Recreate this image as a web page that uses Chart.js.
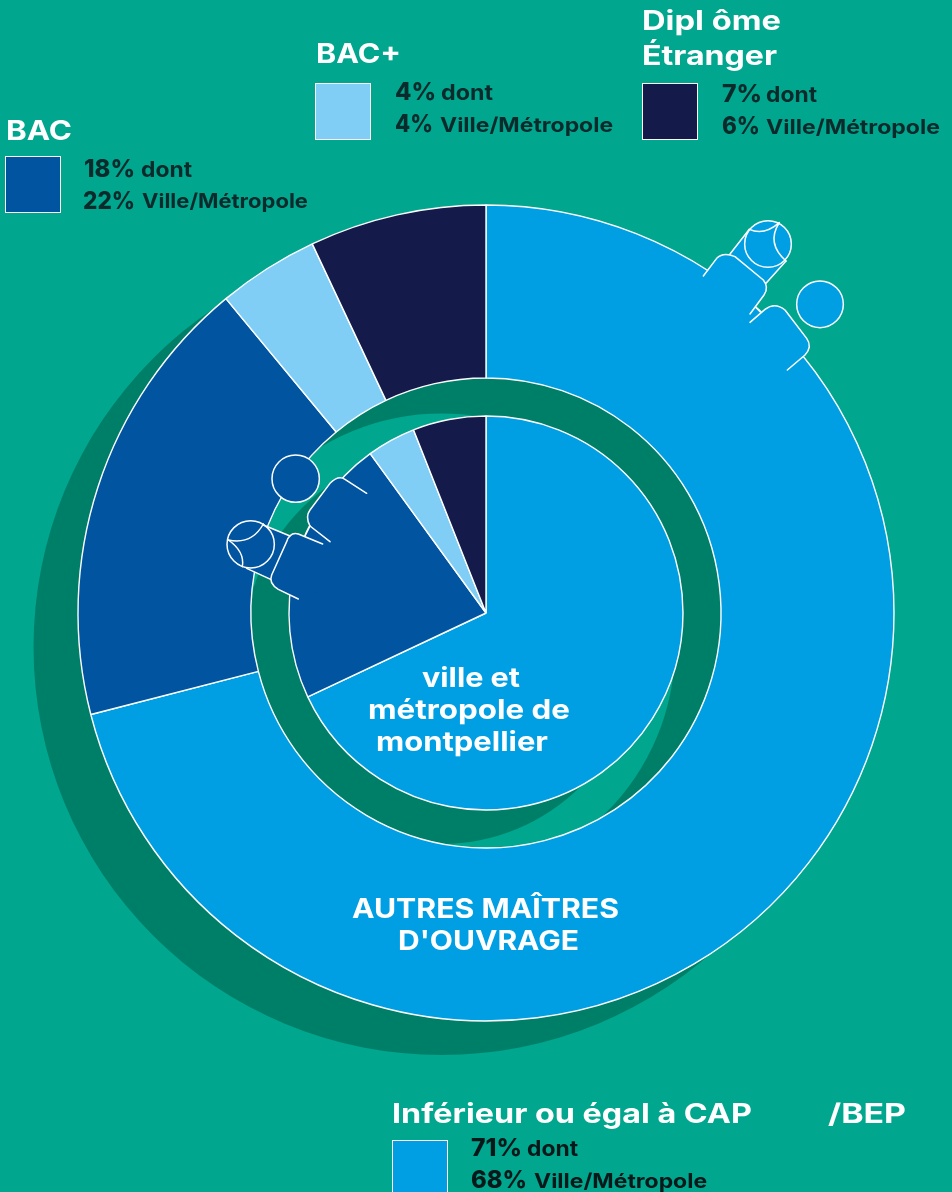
<!DOCTYPE html>
<html lang="fr"><head><meta charset="utf-8">
<script src="https://cdn.jsdelivr.net/npm/chart.js@4"></script>
<style>
html,body{margin:0;padding:0;background:#00A78E;}
#page{position:relative;width:952px;height:1192px;overflow:hidden;background:#00A78E;}
canvas{position:absolute;left:0;top:0;}
.t{position:absolute;white-space:pre;font-family:Inter,"Open Sans",sans-serif;line-height:1;transform-origin:0 0;}
.sw{position:absolute;box-sizing:border-box;border:1.5px solid #fff;}
</style></head><body>
<div id="page"><canvas id="c" width="952" height="1192"></canvas></div>
<script>
// Data
const categories = ["Inférieur ou égal à CAP/BEP", "BAC", "BAC+", "Diplôme Étranger"];
const autresMaitres = [71, 18, 4, 7];
const villeMetropole = [68, 22, 4, 6];
const seriesColors = ["#009FE3", "#0054A0", "#80CEF6", "#141B4B"];
const ringWeights = { outer: 173, gap: 38, inner: 197 };

const WHITE = "#fff", DARK = "#007F68", DEEP = seriesColors[1], SKY = seriesColors[0];

function paintIcon(ctx, ox, oy, draw) {
  ctx.save(); ctx.translate(ox, oy); ctx.scale(1/3, 1/3);
  ctx.lineWidth = 4.5; ctx.strokeStyle = WHITE; ctx.lineCap = "round"; ctx.lineJoin = "round";
  draw(ctx); ctx.restore();
}
function poly(ctx, fill, pts) {
  ctx.beginPath(); pts(ctx); ctx.closePath(); ctx.fillStyle = fill; ctx.fill();
}
function line(ctx, pts) { ctx.beginPath(); pts(ctx); ctx.stroke(); }
function disc(ctx, x, y, r, fill) {
  ctx.beginPath(); ctx.arc(x, y, r, 0, Math.PI*2); ctx.fillStyle = fill; ctx.fill(); ctx.stroke();
}

const shadowPlugin = {
  id: "shadow",
  beforeDatasetsDraw(chart) {
    const ctx = chart.ctx;
    const outer = chart.getDatasetMeta(0).controller;
    const inner = chart.getDatasetMeta(2).controller;
    const a = chart.getDatasetMeta(0).data[0];
    const x = a.x - 44.5, y = a.y + 34;
    ctx.save(); ctx.fillStyle = DARK;
    ctx.beginPath();
    ctx.arc(x, y, outer.outerRadius, 0, Math.PI*2);
    ctx.arc(x, y, outer.innerRadius - 1.5, 0, Math.PI*2, true);
    ctx.closePath(); ctx.fill();
    ctx.beginPath(); ctx.arc(x, y, inner.outerRadius, 0, Math.PI*2); ctx.fill();
    ctx.restore();
  }
};

const iconPlugin = {
  id: "icons",
  afterDatasetsDraw(chart) {
    const ctx = chart.ctx;
    // pointer on the outer ring, top right
    paintIcon(ctx, 690, 200, c => {
      poly(c, SKY, p => { p.moveTo(55,210); p.lineTo(80,175); p.quadraticCurveTo(100,155,135,170); p.lineTo(220,240);
        p.quadraticCurveTo(238,262,222,285); p.lineTo(197,322); p.lineTo(212,337); p.lineTo(225,328);
        p.quadraticCurveTo(255,305,285,330); p.lineTo(350,415); p.quadraticCurveTo(368,440,345,465);
        p.lineTo(340,470); p.lineTo(200,600); p.lineTo(0,400); });
      poly(c, SKY, p => { p.moveTo(120,162); p.lineTo(178,88); p.lineTo(288,183); p.lineTo(228,250); p.lineTo(220,240); p.lineTo(135,170); });
      disc(c, 234, 132, 70, SKY);
      line(c, p => { p.moveTo(40,228); p.lineTo(80,175); p.quadraticCurveTo(100,155,135,170); p.lineTo(220,240);
        p.quadraticCurveTo(238,262,222,285); p.lineTo(180,342); });
      line(c, p => { p.moveTo(197,322); p.lineTo(212,337); });
      line(c, p => { p.moveTo(180,367); p.lineTo(225,328); p.quadraticCurveTo(255,305,285,330); p.lineTo(350,415);
        p.quadraticCurveTo(368,440,345,465); p.lineTo(292,510); });
      line(c, p => { p.moveTo(120,162); p.lineTo(178,88); });
      line(c, p => { p.moveTo(288,183); p.lineTo(228,250); });
      line(c, p => { p.moveTo(178,88); p.quadraticCurveTo(222,108,268,68); });
      line(c, p => { p.moveTo(268,68); p.quadraticCurveTo(228,130,288,183); });
      disc(c, 390, 313, 70, SKY);
    });
    // pointer on the inner disc, left
    paintIcon(ctx, 210, 420, c => {
      poly(c, DEEP, p => { p.moveTo(405,178); p.quadraticCurveTo(385,165,360,190); p.lineTo(300,270);
        p.quadraticCurveTo(285,290,300,318); p.lineTo(285,348); p.lineTo(265,342); p.quadraticCurveTo(240,335,230,365);
        p.lineTo(185,465); p.quadraticCurveTo(175,490,205,508); p.lineTo(240,525); p.lineTo(500,500); });
      poly(c, DEEP, p => { p.moveTo(160,315); p.lineTo(240,348); p.lineTo(185,478); p.lineTo(110,445); });
      disc(c, 122, 373, 71, DEEP);
      line(c, p => { p.moveTo(470,220); p.lineTo(405,178); p.quadraticCurveTo(385,165,360,190); p.lineTo(300,270);
        p.quadraticCurveTo(285,290,300,318); p.lineTo(360,365); });
      line(c, p => { p.moveTo(300,318); p.lineTo(285,348); });
      line(c, p => { p.moveTo(338,372); p.lineTo(265,342); p.quadraticCurveTo(240,335,230,365); p.lineTo(185,465);
        p.quadraticCurveTo(175,490,205,508); p.lineTo(265,537); });
      line(c, p => { p.moveTo(160,315); p.lineTo(240,348); });
      line(c, p => { p.moveTo(110,445); p.lineTo(182,478); });
      line(c, p => { p.moveTo(160,312); p.quadraticCurveTo(125,375,55,360); });
      line(c, p => { p.moveTo(55,360); p.quadraticCurveTo(105,395,97,440); });
      disc(c, 257, 176, 71, DEEP);
    });
  }
};

new Chart(document.getElementById("c"), {
  type: "doughnut",
  data: {
    labels: categories,
    datasets: [
      { label: "Autres maîtres d'ouvrage", data: autresMaitres, backgroundColor: seriesColors, borderColor: WHITE, borderWidth: 1.4, weight: ringWeights.outer },
      { label: "", data: [1], backgroundColor: "rgba(0,0,0,0)", borderColor: "rgba(0,0,0,0)", borderWidth: 1.4, weight: ringWeights.gap },
      { label: "Ville et métropole de Montpellier", data: villeMetropole, backgroundColor: seriesColors, borderColor: WHITE, borderWidth: 1.4, weight: ringWeights.inner }
    ]
  },
  options: {
    responsive: false, animation: false, cutout: 0, rotation: 0, circumference: 360,
    layout: { padding: { left: 77.3, right: 57.3, top: 204.3, bottom: 170.3 } },
    plugins: { legend: { display: false }, tooltip: { enabled: false } },
    events: []
  },
  plugins: [shadowPlugin, iconPlugin]
});

// Text: [string, left x, baseline y, font px, weight, colour, target width]
const INK = "#0A2A2B", BLK = "#06191A";
const textItems = [
  ["BAC", 6, 140, 27, 700, WHITE, 66],
  ["18%", 84, 177, 24, 800, INK, 51], ["dont", 141, 177, 21, 700, INK, 51],
  ["22%", 83, 209, 24, 800, INK, 52], ["Ville/Métropole", 142, 208, 20, 700, INK, 166],
  ["BAC+", 316, 63, 27, 700, WHITE, 85],
  ["4%", 395, 100, 24, 800, INK, 41], ["dont", 441, 100, 21, 700, INK, 52],
  ["4%", 395, 132, 24, 800, INK, 38], ["Ville/Métropole", 440, 132, 20, 700, INK, 173],
  ["Dipl ôme", 642, 30, 27, 700, WHITE, 139],
  ["Étranger", 642, 65, 27, 700, WHITE, 135],
  ["7%", 722, 102, 24, 800, INK, 40], ["dont", 766, 102, 21, 700, INK, 51],
  ["6%", 722, 134, 24, 800, INK, 38], ["Ville/Métropole", 766, 134, 20, 700, INK, 174],
  ["Inférieur ou égal à CAP", 392, 1123, 27, 700, WHITE, 360],
  ["/BEP", 828, 1123, 27, 700, WHITE, 78],
  ["71%", 471, 1156, 24, 800, BLK, 51], ["dont", 527, 1156, 21, 700, BLK, 51],
  ["68%", 471, 1188, 24, 800, BLK, 56], ["Ville/Métropole", 534, 1188, 20, 700, BLK, 173],
  ["ville et", 422, 687, 27, 700, WHITE, 98],
  ["métropole de", 368, 719, 27, 700, WHITE, 202],
  ["montpellier", 376, 751, 27, 700, WHITE, 172],
  ["AUTRES MAÎTRES", 352, 918, 27, 700, WHITE, 267],
  ["D'OUVRAGE", 398, 950, 27, 700, WHITE, 181]
];
const swatches = [
  [5, 156, 56, 57, seriesColors[1]],
  [315, 83, 56, 57, seriesColors[2]],
  [642, 83, 56, 57, seriesColors[3]],
  [392, 1140, 56, 70, seriesColors[0]]
];
const page = document.getElementById("page");
swatches.forEach(([x, y, w, h, col]) => {
  const d = document.createElement("div"); d.className = "sw";
  d.style.cssText = `left:${x}px;top:${y}px;width:${w}px;height:${h}px;background:${col}`;
  page.appendChild(d);
});
const meas = document.createElement("canvas").getContext("2d");
textItems.forEach(([s, x, base, px, w, col, tw]) => {
  const d = document.createElement("div"); d.className = "t"; d.textContent = s;
  meas.font = `${w} ${px}px Inter,"Open Sans",sans-serif`;
  const sx = tw / meas.measureText(s).width;
  d.style.cssText = `left:${x}px;top:${base - px * 0.85}px;font-size:${px}px;font-weight:${w};color:${col};transform:scaleX(${sx.toFixed(3)});height:${px}px`;
  page.appendChild(d);
});
</script>
</body></html>
